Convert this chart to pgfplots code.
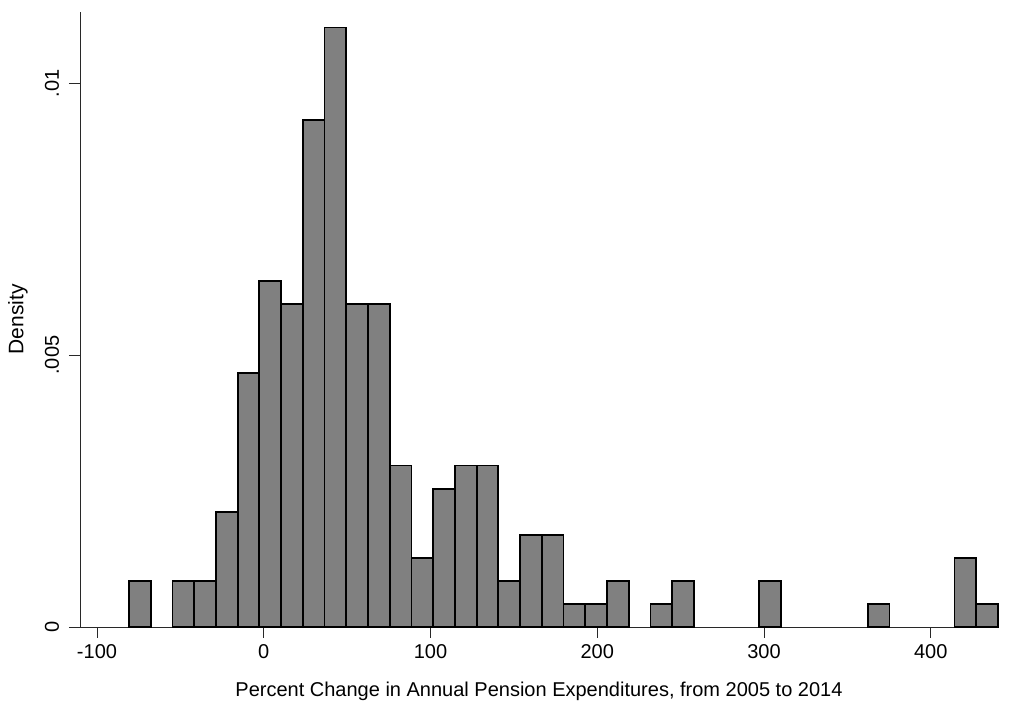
\documentclass[border=0pt]{standalone}
\usepackage{pgfplots}
\pgfplotsset{compat=1.18}
\usepackage{fontspec}
\setmainfont{Liberation Sans}
\definecolor{barfill}{RGB}{128,128,128}
\definecolor{axcol}{RGB}{40,40,40}
\begin{document}
\begin{tikzpicture}
\begin{axis}[
  scale only axis, width=918pt, height=615pt,
  xmin=-110.2, xmax=440.3, ymin=0, ymax=0.01131,
  axis x line=bottom, axis y line=left,
  axis line style={-, draw=axcol, line width=0.9pt},
  scaled y ticks=false, scaled x ticks=false,
  xtick={-100,0,100,200,300,400}, xticklabels={-100,0,100,200,300,400},
  ytick={0,0.005,0.01}, yticklabels={0,.005,.01},
  tick style={draw=axcol, line width=0.9pt},
  tick align=outside, major tick length=11pt,
  xticklabel shift=3pt, yticklabel shift=10pt,
  xticklabel style={font=\fontsize{20}{24}\selectfont},
  yticklabel style={rotate=90, anchor=base, font=\fontsize{20}{24}\selectfont},
  every axis x label/.style={at={(axis description cs:0.5,0)}, yshift=-70pt, anchor=base, font=\fontsize{20}{24}\selectfont},
  every axis y label/.style={at={(axis description cs:0,0.5)}, xshift=-62pt, rotate=90, anchor=center, font=\fontsize{21}{24}\selectfont},
  xlabel={Percent Change in Annual Pension Expenditures, from 2005 to 2014},
  ylabel={Density},
  clip=false,
]
\addplot[ybar, bar width=13.0275, bar shift=0pt, fill=barfill, draw=black, line width=1.8pt] coordinates {
(-74.29,0.000848)
(-48.23,0.000848)
(-35.20,0.000848)
(-22.18,0.002120)
(-9.15,0.004665)
(3.88,0.006361)
(16.91,0.005937)
(29.94,0.009330)
(42.97,0.011026)
(55.99,0.005937)
(69.02,0.005937)
(82.05,0.002969)
(95.08,0.001272)
(108.11,0.002545)
(121.13,0.002969)
(134.16,0.002969)
(147.19,0.000848)
(160.22,0.001696)
(173.25,0.001696)
(186.28,0.000424)
(199.30,0.000424)
(212.33,0.000848)
(238.39,0.000424)
(251.42,0.000848)
(303.53,0.000848)
(368.66,0.000424)
(420.76,0.001272)
(433.79,0.000424)
};
\end{axis}
\pgfresetboundingbox
\path[use as bounding box] ([xshift=-80pt,yshift=-79pt]current axis.south west) rectangle ([xshift=14pt,yshift=12pt]current axis.north east);
\end{tikzpicture}
\end{document}
